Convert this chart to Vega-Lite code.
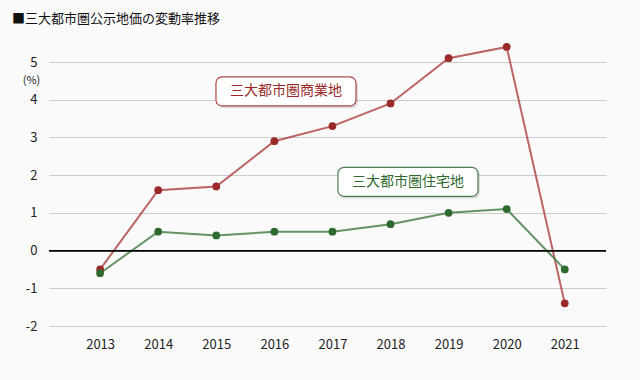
{
  "$schema": "https://vega.github.io/schema/vega-lite/v6.json",
  "width": 557,
  "height": 264,
  "autosize": "none",
  "padding": {"left": 49, "top": 62, "right": 34, "bottom": 54},
  "background": "#fafafa",
  "title": {
    "text": "■三大都市圏公示地価の変動率推移",
    "anchor": "start",
    "frame": "group",
    "dx": -37,
    "dy": 16,
    "offset": 23,
    "baseline": "alphabetic",
    "fontSize": 13,
    "fontWeight": "normal",
    "font": "Noto Sans CJK JP",
    "color": "#111111"
  },
  "config": {
    "view": {"stroke": null},
    "font": "Noto Sans CJK JP",
    "axis": {"labelFont": "Noto Sans CJK JP", "labelFontSize": 13, "labelColor": "#222222"}
  },
  "datasets": {
    "rates": [
      {"year": 2013, "series": "商業地", "value": -0.5},
      {"year": 2014, "series": "商業地", "value": 1.6},
      {"year": 2015, "series": "商業地", "value": 1.7},
      {"year": 2016, "series": "商業地", "value": 2.9},
      {"year": 2017, "series": "商業地", "value": 3.3},
      {"year": 2018, "series": "商業地", "value": 3.9},
      {"year": 2019, "series": "商業地", "value": 5.1},
      {"year": 2020, "series": "商業地", "value": 5.4},
      {"year": 2021, "series": "商業地", "value": -1.4},
      {"year": 2013, "series": "住宅地", "value": -0.6},
      {"year": 2014, "series": "住宅地", "value": 0.5},
      {"year": 2015, "series": "住宅地", "value": 0.4},
      {"year": 2016, "series": "住宅地", "value": 0.5},
      {"year": 2017, "series": "住宅地", "value": 0.5},
      {"year": 2018, "series": "住宅地", "value": 0.7},
      {"year": 2019, "series": "住宅地", "value": 1.0},
      {"year": 2020, "series": "住宅地", "value": 1.1},
      {"year": 2021, "series": "住宅地", "value": -0.5}
    ],
    "labels": [
      {"series": "商業地", "label": "三大都市圏商業地", "year": 2016.2, "value": 4.22},
      {"series": "住宅地", "label": "三大都市圏住宅地", "year": 2018.3, "value": 1.82}
    ]
  },
  "encoding": {
    "x": {
      "field": "year", "type": "quantitative",
      "scale": {"domain": [2012.12, 2021.71], "nice": false, "zero": false},
      "axis": {"values": [2013, 2014, 2015, 2016, 2017, 2018, 2019, 2020, 2021], "format": "d", "title": null, "grid": false, "domain": false, "ticks": false, "labelPadding": 12, "labelOverlap": false}
    },
    "y": {
      "field": "value", "type": "quantitative",
      "scale": {"domain": [-2, 5], "nice": false, "zero": false},
      "axis": {"values": [-2, -1, 0, 1, 2, 3, 4, 5], "labelExpr": "datum.value + ''", "labelOverlap": false, "title": "(%)", "titleAngle": 0, "titleX": -18, "titleY": 18, "titleAlign": "center", "titleBaseline": "middle", "titleFontSize": 11, "titleFontWeight": "normal", "titleColor": "#222222", "grid": true, "gridColor": "#cccccc", "domain": false, "ticks": false, "labelPadding": 12}
    }
  },
  "layer": [
    {
      "data": {"name": "rates"},
      "mark": {"type": "line", "strokeWidth": 2, "opacity": 0.85},
      "encoding": {
        "stroke": {"field": "series", "type": "nominal", "scale": {"domain": ["商業地", "住宅地"], "range": ["#b04848", "#4a804a"]}, "legend": null}
      }
    },
    {
      "data": {"name": "rates"},
      "mark": {"type": "rule", "stroke": "#000000", "strokeWidth": 1},
      "encoding": {"x": null, "y": {"datum": 0, "type": "quantitative"}}
    },
    {
      "data": {"name": "rates"},
      "mark": {"type": "circle", "size": 60, "opacity": 1},
      "encoding": {
        "fill": {"field": "series", "type": "nominal", "scale": {"domain": ["商業地", "住宅地"], "range": ["#9a2a2a", "#2e6a2e"]}, "legend": null}
      }
    },
    {
      "data": {"name": "labels"},
      "mark": {"type": "rect", "width": 140, "height": 29, "cornerRadius": 6, "fill": "#999999", "opacity": 0.35, "xOffset": 2, "yOffset": 2},
      "encoding": {}
    },
    {
      "data": {"name": "labels"},
      "mark": {"type": "rect", "width": 140, "height": 29, "cornerRadius": 6, "fill": "#ffffff", "strokeWidth": 1.2},
      "encoding": {
        "stroke": {"field": "series", "type": "nominal", "legend": null}
      }
    },
    {
      "data": {"name": "labels"},
      "mark": {"type": "text", "fontSize": 14, "font": "Noto Sans CJK JP", "align": "center", "baseline": "middle"},
      "encoding": {
        "text": {"field": "label"},
        "fill": {"field": "series", "type": "nominal", "scale": {"domain": ["商業地", "住宅地"], "range": ["#9a2a2a", "#2e6a2e"]}, "legend": null}
      }
    }
  ]
}
